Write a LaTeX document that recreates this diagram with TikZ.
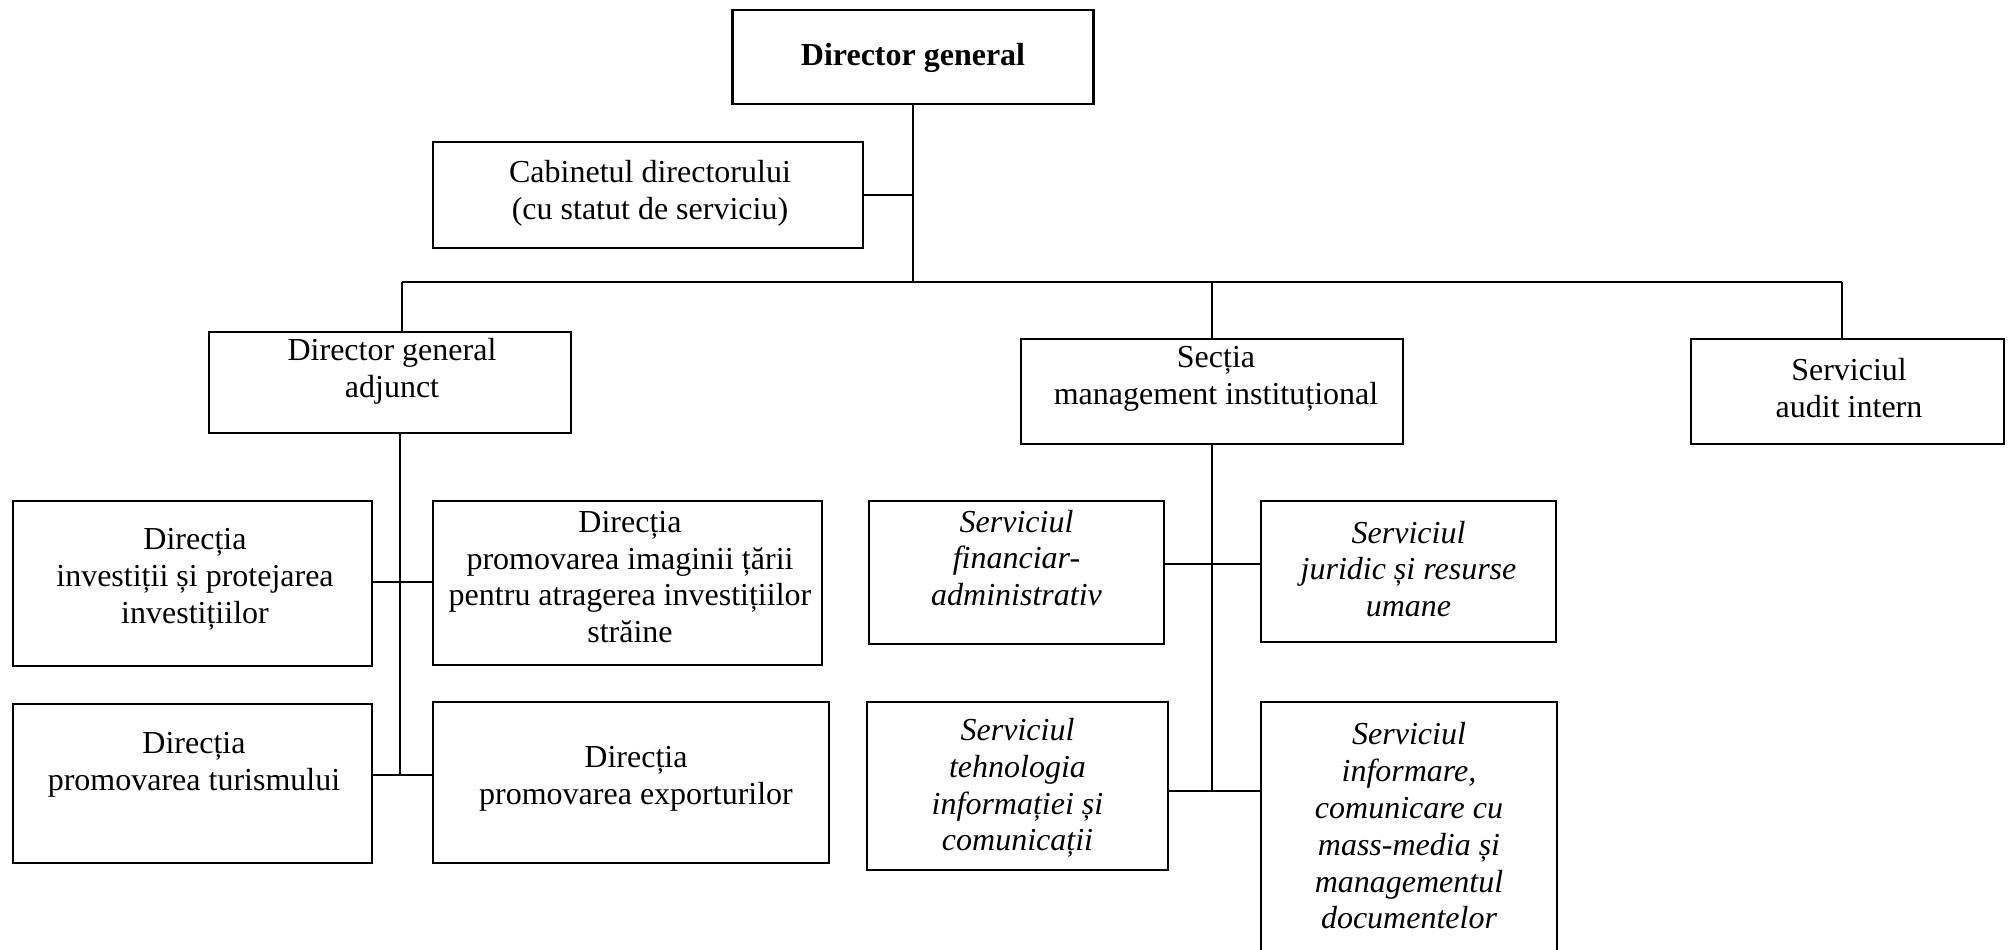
\documentclass[tikz,border=0pt]{standalone}
\usepackage{fontspec}
\setmainfont{Liberation Serif}

\begin{document}
\begin{tikzpicture}[
  x=0.5pt,
  y=-0.5pt,
  font=\fontsize{16}{18.4}\selectfont,
  box/.style={
    draw,
    line width=1.1pt,
    inner sep=0pt
  },
  txt/.style={
    align=center,
    inner sep=0pt
  },
  serv/.style={
    txt,
    font=\fontsize{16}{18.4}\selectfont\itshape
  },
  link/.style={
    draw,
    line width=0.9pt
  },
]
\useasboundingbox (0,0) rectangle (2013,949);

% conducerea
\node[box, minimum width=180.5pt, minimum height=47pt] (dg) at (913,57) {};
\node[txt, font=\fontsize{16}{18.4}\selectfont\bfseries] (dg-t) at (913,58) {Director general};
\node[box, minimum width=215pt, minimum height=53pt] (cab) at (648,195) {};
\node[txt] (cab-t) at (650,193) {Cabinetul directorului\\(cu statut de serviciu)};

% nivelul doi
\node[box, minimum width=181pt, minimum height=50.5pt] (adj) at (390,382.5) {};
\node[txt] (adj-t) at (392,371) {Director general\\adjunct};
\node[box, minimum width=191pt, minimum height=52.5pt] (sec) at (1212,391.5) {};
\node[txt] (sec-t) at (1216,379) {Secția\\management instituțional};
\node[box, minimum width=156.5pt, minimum height=52.5pt] (aud) at (1847.5,391.5) {};
\node[txt] (aud-t) at (1849,388) {Serviciul\\audit intern};

% directiile
\node[box, minimum width=179.5pt, minimum height=82.5pt] (inv) at (192.5,583.5) {};
\node[txt] (inv-t) at (195,579) {Direcția\\investiții și protejarea\\investițiilor};
\node[box, minimum width=194.5pt, minimum height=82pt] (img) at (627.5,583) {};
\node[txt] (img-t) at (630,577) {Direcția\\promovarea imaginii țării\\pentru atragerea investițiilor\\străine};
\node[box, minimum width=179.5pt, minimum height=79.5pt] (tur) at (192.5,783.5) {};
\node[txt] (tur-t) at (194,765) {Direcția\\promovarea turismului};
\node[box, minimum width=198pt, minimum height=80.5pt] (exp) at (631,782.5) {};
\node[txt] (exp-t) at (636,779) {Direcția\\promovarea exporturilor};

% serviciile
\node[box, minimum width=147.5pt, minimum height=71.5pt] (fin) at (1016.5,572.5) {};
\node[serv] (fin-t) at (1016.5,558) {Serviciul\\financiar-\\administrativ};
\node[box, minimum width=147.5pt, minimum height=70.5pt] (jur) at (1408.5,571.5) {};
\node[serv] (jur-t) at (1408.5,569) {Serviciul\\juridic și resurse\\umane};
\node[box, minimum width=150.5pt, minimum height=84pt] (teh) at (1017.5,786) {};
\node[serv] (teh-t) at (1017.5,788) {Serviciul\\tehnologia\\informației și\\comunicații};
\node[box, minimum width=148pt, minimum height=150pt] (inf) at (1409,852) {};
\node[serv] (inf-t) at (1409,826) {Serviciul\\informare,\\comunicare cu\\mass-media și\\managementul\\documentelor};

% legaturi
\coordinate (bus-l) at (402,282);
\coordinate (bus-r) at (1842,282);
\coordinate (adj-mid) at (400,582);
\coordinate (adj-end) at (400,775);
\coordinate (sec-mid) at (1212,564);
\coordinate (sec-end) at (1212,791);

\draw[link] (dg.south) -- (dg.south |- bus-l);
\draw[link] (cab.east) -- (cab.east -| dg.south);
\draw[link] (bus-l) -- (bus-r);
\draw[link] (bus-l) -- (bus-l |- adj.north);
\draw[link] (sec.north |- bus-l) -- (sec.north);
\draw[link] (bus-r) -- (bus-r |- aud.north);

\draw[link] (adj.south -| adj-end) -- (adj-end);
\draw[link] (adj-mid -| inv.east) -- (adj-mid -| img.west);
\draw[link] (adj-end -| tur.east) -- (adj-end -| exp.west);

\draw[link] (sec.south) -- (sec-end);
\draw[link] (sec-mid -| fin.east) -- (sec-mid -| jur.west);
\draw[link] (sec-end -| teh.east) -- (sec-end -| inf.west);
\end{tikzpicture}
\end{document}
